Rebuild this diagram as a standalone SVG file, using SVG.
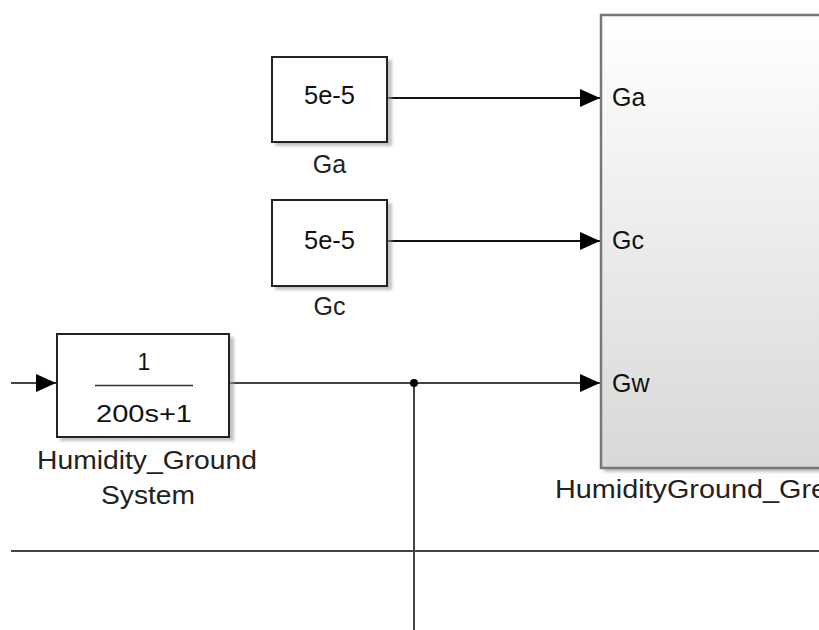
<svg xmlns="http://www.w3.org/2000/svg" width="819" height="630" viewBox="0 0 819 630">
<style>
.blk{fill:#fff;stroke:#222;stroke-width:2}
.shd{fill:#9a9a9a;opacity:0.6}
.t{font-family:"Liberation Sans",Arial,sans-serif;font-size:25px;fill:#111}
.tf{font-family:"Liberation Sans",Arial,sans-serif;font-size:23px;fill:#111}
.lbl{font-family:"Liberation Sans",Arial,sans-serif;font-size:25px;fill:#222}
.ln{stroke:#111;stroke-width:2;fill:none}
.gl{stroke:#444;stroke-width:2;fill:none}
</style>
<defs>
<marker id="arw" markerWidth="20" markerHeight="18" refX="20" refY="9" orient="auto" markerUnits="userSpaceOnUse" viewBox="0 0 20 18">
<path d="M0,0 L20,9 L0,18 Z" fill="#000"/>
</marker>
<linearGradient id="bg" x1="0" y1="0" x2="0" y2="1">
<stop offset="0" stop-color="#ffffff"/>
<stop offset="1" stop-color="#d8d8d8"/>
</linearGradient>
<filter id="bl" x="-10%" y="-10%" width="130%" height="130%"><feGaussianBlur stdDeviation="1.5"/></filter>
</defs>
<g id="connectors">
<path class="ln" d="M388,98 H600" marker-end="url(#arw)"/>
<path class="ln" d="M388,241 H600" marker-end="url(#arw)"/>
<path class="gl" d="M230,383 H600" marker-end="url(#arw)"/>
<path class="gl" d="M414,383 V630"/>
<path class="gl" d="M11,383 H56" marker-end="url(#arw)"/>
<path class="gl" d="M11,551 H819"/>
<circle cx="414" cy="383" r="4" fill="#000"/>
</g>
<g id="Ga">
<rect class="shd" x="275" y="60" width="117" height="86" filter="url(#bl)"/>
<rect class="blk" x="272" y="57" width="115" height="85"/>
<text class="t" x="304" y="104" textLength="51" lengthAdjust="spacingAndGlyphs">5e-5</text>
<text class="lbl" x="329.5" y="173" text-anchor="middle">Ga</text>
</g>
<g id="Gc">
<rect class="shd" x="275" y="203" width="117" height="87" filter="url(#bl)"/>
<rect class="blk" x="272" y="200" width="115" height="86"/>
<text class="t" x="304" y="249" textLength="51" lengthAdjust="spacingAndGlyphs">5e-5</text>
<text class="lbl" x="329.5" y="315" text-anchor="middle">Gc</text>
</g>
<g id="HumidityGroundSystem">
<rect class="shd" x="60" y="337" width="174" height="104" filter="url(#bl)"/>
<rect class="blk" x="57" y="334" width="172" height="103"/>
<text class="tf" x="144" y="370" text-anchor="middle">1</text>
<line x1="95" y1="385.5" x2="193" y2="385.5" stroke="#333" stroke-width="1.5"/>
<text class="tf" x="96" y="422" textLength="96" lengthAdjust="spacingAndGlyphs">200s+1</text>
<text class="lbl" x="37" y="469" textLength="220" lengthAdjust="spacingAndGlyphs">Humidity_Ground</text>
<text class="lbl" x="101" y="504" textLength="94" lengthAdjust="spacingAndGlyphs">System</text>
</g>
<g id="HumidityGround_Greenhouse">
<rect class="shd" x="604" y="18" width="230" height="454" filter="url(#bl)"/>
<rect x="601" y="15" width="240" height="453" fill="url(#bg)" stroke="#777" stroke-width="2.5"/>
<text class="t" x="612" y="106">Ga</text>
<text class="t" x="612" y="249">Gc</text>
<text class="t" x="612" y="392">Gw</text>
<text class="lbl" x="555" y="498" textLength="272" lengthAdjust="spacingAndGlyphs">HumidityGround_Gre</text>
</g>
</svg>
